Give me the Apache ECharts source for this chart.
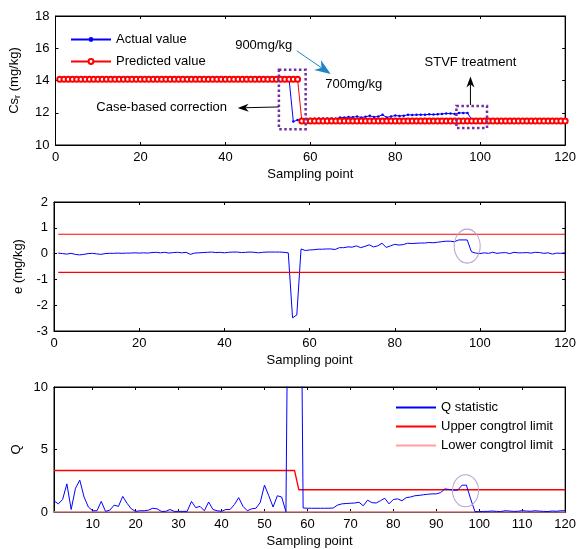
<!DOCTYPE html>
<html>
<head>
<meta charset="utf-8">
<script src="https://cdn.jsdelivr.net/npm/echarts@6/dist/echarts.min.js"></script>
<style>
html, body { margin: 0; padding: 0; background: #fff; }
#chart { width: 579px; height: 549px; }
</style>
</head>
<body>
<div id="chart"></div>
<script>
// 数据
//-----

// 采样点 1..120
var samples = [];
for (var i = 1; i <= 120; i++) samples.push(i);

var csTicks = [10, 12, 14, 16, 18];
var eTicks = [-3, -2, -1, 0, 1, 2];
var qTicks = [0, 5, 10];
var xTicks = [0, 20, 40, 60, 80, 100, 120];
var qXTicks = [10, 20, 30, 40, 50, 60, 70, 80, 90, 100, 110, 120];

// 实际值 Cs_r
var actualCs = [
  14.08, 14.06, 14.04, 14.07, 14.03, 14.01, 14.03, 14.06, 14.07, 14.05,
  14.03, 14.06, 14.07, 14.07, 14.08, 14.07, 14.08, 14.08, 14.09, 14.08,
  14.09, 14.08, 14.10, 14.11, 14.09, 14.11, 14.08, 14.10, 14.11, 14.09,
  14.11, 14.03, 14.08, 14.09, 14.10, 14.11, 14.12, 14.10, 14.11, 14.09,
  14.11, 14.12, 14.12, 14.10, 14.11, 14.12, 14.11, 14.09, 14.11, 14.12,
  14.12, 14.12, 14.12, 14.11, 14.09, 11.45, 11.55,
  11.62, 11.60, 11.62, 11.63, 11.64, 11.64, 11.65, 11.65, 11.63, 11.70,
  11.70, 11.73, 11.72, 11.77, 11.70, 11.75, 11.81, 11.73, 11.77, 11.87,
  11.71, 11.77, 11.83, 11.80, 11.82, 11.87, 11.86, 11.87, 11.88, 11.88,
  11.90, 11.89, 11.91, 11.93, 11.95, 11.95, 11.93, 11.99, 11.99, 11.99,
  11.57, 11.50, 11.48, 11.50, 11.49, 11.53, 11.49, 11.51, 11.52, 11.48,
  11.53, 11.51, 11.51, 11.52, 11.50, 11.53, 11.52, 11.49, 11.51, 11.46,
  11.50, 11.49, 11.51
];

// 预测值
var predictedCs = [
  14.07, 14.07, 14.07, 14.07, 14.07, 14.07, 14.07, 14.07, 14.07, 14.07,
  14.07, 14.07, 14.07, 14.07, 14.07, 14.07, 14.07, 14.07, 14.07, 14.07,
  14.07, 14.07, 14.07, 14.07, 14.07, 14.07, 14.07, 14.07, 14.07, 14.07,
  14.07, 14.07, 14.07, 14.07, 14.07, 14.07, 14.07, 14.07, 14.07, 14.07,
  14.07, 14.07, 14.07, 14.07, 14.07, 14.07, 14.07, 14.07, 14.07, 14.07,
  14.07, 14.07, 14.07, 14.07, 14.07, 14.07, 14.07,
  11.49, 11.49, 11.49,
  11.49, 11.49, 11.49, 11.49, 11.49, 11.49, 11.49, 11.49, 11.49, 11.49,
  11.49, 11.49, 11.49, 11.49, 11.49, 11.49, 11.49, 11.49, 11.49, 11.49,
  11.49, 11.49, 11.49, 11.49, 11.49, 11.49, 11.49, 11.49, 11.49, 11.49,
  11.49, 11.49, 11.49, 11.49, 11.49, 11.49, 11.49, 11.49, 11.49, 11.49,
  11.49, 11.49, 11.49, 11.49, 11.49, 11.49, 11.49, 11.49, 11.49, 11.49,
  11.49, 11.49, 11.49, 11.49, 11.49, 11.49, 11.49, 11.49, 11.49, 11.49
];

// 误差 e
var errorE = [
  0.02, 0.00, -0.02, 0.01, -0.03, -0.05, -0.03, 0.00, 0.01, -0.01,
  -0.03, 0.00, 0.01, 0.01, 0.02, 0.01, 0.02, 0.02, 0.03, 0.02,
  0.03, 0.02, 0.04, 0.05, 0.03, 0.05, 0.02, 0.04, 0.05, 0.03,
  0.05, -0.03, 0.02, 0.03, 0.04, 0.05, 0.06, 0.04, 0.05, 0.03,
  0.05, 0.06, 0.06, 0.04, 0.05, 0.06, 0.05, 0.03, 0.05, 0.06,
  0.06, 0.06, 0.06, 0.05, 0.03, -2.49, -2.38, 0.18, 0.12, 0.14,
  0.15, 0.17, 0.17, 0.18, 0.18, 0.16, 0.23, 0.23, 0.26, 0.25,
  0.30, 0.23, 0.28, 0.34, 0.26, 0.30, 0.40, 0.24, 0.30, 0.36,
  0.33, 0.35, 0.40, 0.39, 0.40, 0.41, 0.41, 0.43, 0.42, 0.44,
  0.46, 0.48, 0.48, 0.46, 0.53, 0.53, 0.53, 0.07, 0.02, 0.00,
  0.03, 0.01, 0.05, 0.01, 0.03, 0.04, 0.00, 0.05, 0.03, 0.03,
  0.04, 0.02, 0.05, 0.04, 0.01, 0.03, -0.02, 0.02, 0.01, 0.03
];
var eUpper = [[1, 0.75], [120, 0.75]];
var eLower = [[1, -0.73], [120, -0.73]];

// Q 统计量
var qStat = [
  0.90, 0.65, 1.00, 2.25, 0.20, 1.90, 2.55, 1.20, 0.40, 0.10,
  0.10, 0.85, 0.05, 0.15, 0.55, 0.45, 1.25, 0.70, 0.25, 0.05,
  0.10, 0.10, 0.15, 0.30, 0.25, 0.05, 0.05, 0.20, 0.05, 0.05,
  0.05, 0.05, 0.85, 0.35, 0.45, 0.10, 0.80, 0.20, 0.10, 0.05,
  0.20, 0.20, 0.60, 1.15, 0.45, 0.10, 0.25, 0.30, 0.75, 2.15,
  1.30, 0.40, 1.30, 1.20, 0.02, 40.0, 40.0, 40.0, 0.32, 0.30,
  0.30, 0.30, 0.30, 0.30, 0.30, 0.32, 0.55, 0.65, 0.68, 0.70,
  0.72, 0.78, 0.50, 0.95, 0.75, 0.72, 0.90, 1.10, 0.65, 1.00,
  1.05, 0.90, 1.15, 1.20, 1.30, 1.33, 1.38, 1.42, 1.45, 1.45,
  1.55, 1.85, 1.80, 1.75, 1.75, 2.15, 2.15, 1.05, 0.03, 0.03,
  0.05, 0.05, 0.08, 0.05, 0.04, 0.10, 0.08, 0.05, 0.06, 0.10,
  0.08, 0.06, 0.10, 0.07, 0.05, 0.04, 0.08, 0.06, 0.10, 0.10
];
var qUpper = [[1, 3.32], [57, 3.32], [58, 1.78], [120, 1.78]];
var qLower = [[1, 0], [120, 0]];

// 样式
//-----
var FONT = 'Liberation Sans';
var black = '#000';

var pairs = function(ys) {
  return ys.map(function(v, i) { return [samples[i], v]; });
};

function xAxisOf(grid, min, max, ticks, withName) {
  var ax = {
    gridIndex: grid, type: 'value', min: min, max: max,
    axisLine: { show: true, onZero: false, lineStyle: { color: black, width: 1 } },
    axisTick: { show: true, inside: true, length: 3, lineStyle: { color: black }, customValues: ticks },
    axisLabel: { fontSize: 13, color: black, fontFamily: FONT, margin: 6, customValues: ticks },
    splitLine: { show: false }
  };
  if (withName) {
    ax.position = 'bottom';
    ax.name = 'Sampling point';
    ax.nameLocation = 'middle';
    ax.nameGap = 23;
    ax.nameTextStyle = { fontSize: 13, color: black, fontFamily: FONT };
  } else {
    ax.position = 'top';
    ax.axisLabel = { show: false, customValues: ticks };
  }
  return ax;
}

function yAxisOf(grid, min, max, ticks, name, gap, withName) {
  var ax = {
    gridIndex: grid, type: 'value', min: min, max: max,
    axisLine: { show: true, onZero: false, lineStyle: { color: black, width: 1 } },
    axisTick: { show: true, inside: true, length: 3, lineStyle: { color: black }, customValues: ticks },
    axisLabel: { fontSize: 13, color: black, fontFamily: FONT, margin: 6, customValues: ticks },
    splitLine: { show: false }
  };
  if (withName) {
    ax.position = 'left';
    ax.name = name;
    ax.nameLocation = 'middle';
    ax.nameGap = gap;
    ax.nameTextStyle = {
      fontSize: 13, color: black, fontFamily: FONT,
      rich: { s: { fontSize: 9, fontFamily: FONT, color: black, padding: [7, 0, 0, 0] } }
    };
  } else {
    ax.position = 'right';
    ax.axisLabel = { show: false, customValues: ticks };
  }
  return ax;
}

var legendText = { fontSize: 13, color: black, fontFamily: FONT };
var boxGrid = { show: true, borderColor: black, borderWidth: 1, backgroundColor: 'transparent' };

var myChart = echarts.init(document.getElementById('chart'));

var option = {
  animation: false,
  backgroundColor: '#fff',
  textStyle: { fontFamily: FONT },
  grid: [
    Object.assign({ left: 54, right: 11, top: 16, height: 129 }, boxGrid),
    Object.assign({ left: 54, right: 11, top: 202, height: 129 }, boxGrid),
    Object.assign({ left: 54, right: 11, top: 387, height: 128 }, boxGrid)
  ],
  xAxis: [
    xAxisOf(0, 0, 120, xTicks, true),
    xAxisOf(1, 0, 120, xTicks, true),
    xAxisOf(2, 1, 120, qXTicks, true),
    xAxisOf(0, 0, 120, xTicks, false),
    xAxisOf(1, 0, 120, xTicks, false),
    xAxisOf(2, 1, 120, qXTicks, false)
  ],
  yAxis: [
    yAxisOf(0, 10, 18, csTicks, 'Cs{s|r} (mg/kg)', 33, true),
    yAxisOf(1, -3, 2, eTicks, 'e (mg/kg)', 29, true),
    yAxisOf(2, 0, 10, qTicks, 'Q', 29, true),
    yAxisOf(0, 10, 18, csTicks, '', 0, false),
    yAxisOf(1, -3, 2, eTicks, '', 0, false),
    yAxisOf(2, 0, 10, qTicks, '', 0, false)
  ],
  legend: [
    {
      data: ['Actual value', 'Predicted value'],
      orient: 'vertical', left: 65, top: 28,
      itemWidth: 40, itemHeight: 6, itemGap: 9,
      textStyle: legendText
    },
    {
      data: ['Q statistic', 'Upper congtrol limit', 'Lower congtrol limit'],
      orient: 'vertical', left: 390, top: 396,
      itemWidth: 40, itemHeight: 6, itemGap: 6,
      itemStyle: { opacity: 0 },
      textStyle: legendText
    }
  ],
  series: [
    {
      name: 'Actual value', type: 'line', xAxisIndex: 0, yAxisIndex: 0,
      data: pairs(actualCs), color: '#0000ff', z: 2,
      symbol: 'circle', symbolSize: 2.5, showAllSymbol: true,
      lineStyle: { width: 1 }
    },
    {
      name: 'Predicted value', type: 'line', xAxisIndex: 0, yAxisIndex: 0,
      data: pairs(predictedCs), color: '#ff0000', z: 3,
      symbol: 'emptyCircle', symbolSize: 5, showAllSymbol: true,
      itemStyle: { borderWidth: 1 },
      lineStyle: { width: 1 }
    },
    {
      name: 'e', type: 'line', xAxisIndex: 1, yAxisIndex: 1,
      data: pairs(errorE), color: '#0000ff', symbol: 'none',
      lineStyle: { width: 1 }
    },
    {
      name: 'e upper', type: 'line', xAxisIndex: 1, yAxisIndex: 1,
      data: eUpper, color: '#ff0000', symbol: 'none', lineStyle: { width: 1.2 }
    },
    {
      name: 'e lower', type: 'line', xAxisIndex: 1, yAxisIndex: 1,
      data: eLower, color: '#ff0000', symbol: 'none', lineStyle: { width: 1.2 }
    },
    {
      name: 'Q statistic', type: 'line', xAxisIndex: 2, yAxisIndex: 2,
      data: pairs(qStat), color: '#0000ff', symbol: 'none', z: 3,
      lineStyle: { width: 1 }
    },
    {
      name: 'Upper congtrol limit', type: 'line', xAxisIndex: 2, yAxisIndex: 2,
      data: qUpper, color: '#ff0000', symbol: 'none', z: 2,
      lineStyle: { width: 1.3 }
    },
    {
      name: 'Lower congtrol limit', type: 'line', xAxisIndex: 2, yAxisIndex: 2,
      data: qLower, color: '#ff9f9f', symbol: 'none', z: 2,
      lineStyle: { width: 1.5 }
    }
  ]
};
myChart.setOption(option);

// 标注
//-----
var px = function(seriesIndex, pt) {
  return myChart.convertToPixel({ seriesIndex: seriesIndex }, pt);
};

function arrowEls(p0, p1, color, headLen, headW, lw) {
  var dx = p1[0] - p0[0], dy = p1[1] - p0[1];
  var L = Math.sqrt(dx * dx + dy * dy);
  var ux = dx / L, uy = dy / L, nx = -uy, ny = ux;
  var bx = p1[0] - ux * headLen, by = p1[1] - uy * headLen;
  var mx = p1[0] - ux * headLen * 0.7, my = p1[1] - uy * headLen * 0.7;
  return [
    { type: 'line', shape: { x1: p0[0], y1: p0[1], x2: mx, y2: my },
      style: { stroke: color, lineWidth: lw }, z: 100 },
    { type: 'polygon', shape: { points: [
        [p1[0], p1[1]],
        [bx + nx * headW / 2, by + ny * headW / 2],
        [mx, my],
        [bx - nx * headW / 2, by - ny * headW / 2]
      ] }, style: { fill: color }, z: 100 }
  ];
}

function rectEl(a, b) {
  return {
    type: 'rect', z: 100,
    shape: { x: Math.min(a[0], b[0]), y: Math.min(a[1], b[1]),
             width: Math.abs(b[0] - a[0]), height: Math.abs(b[1] - a[1]) },
    style: { fill: 'none', stroke: '#7030a0', lineWidth: 2.5, lineDash: [2.5, 2.5] }
  };
}

function textEl(p, text) {
  return {
    type: 'text', x: p[0], y: p[1], z: 100,
    style: { text: text, fontSize: 13, fontFamily: FONT, fill: black,
             align: 'left', verticalAlign: 'middle' }
  };
}

function ellipseEl(c, rx, ry) {
  return {
    type: 'circle', x: c[0], y: c[1], scaleY: ry / rx, z: 100,
    shape: { cx: 0, cy: 0, r: rx },
    style: { fill: 'none', stroke: '#b9a3d3', lineWidth: 1, strokeNoScale: true }
  };
}

var graphics = [
  rectEl(px(0, [52.6, 14.66]), px(0, [58.9, 10.98])),
  rectEl(px(0, [94.4, 12.42]), px(0, [101.6, 11.06])),
  textEl(px(0, [42.3, 16.2]), '900mg/kg'),
  textEl(px(0, [63.5, 13.75]), '700mg/kg'),
  textEl(px(0, [9.6, 12.36]), 'Case-based correction'),
  textEl(px(0, [86.9, 15.1]), 'STVF treatment'),
  ellipseEl(px(2, [97, 0.29]), 13, 17),
  ellipseEl(px(5, [96.8, 1.7]), 13, 16)
]
  .concat(arrowEls(px(0, [56.8, 15.84]), px(0, [64.8, 14.4]), '#2185c5', 16, 12, 1))
  .concat(arrowEls(px(0, [52.6, 12.36]), px(0, [42.9, 12.3]), black, 11, 8, 1))
  .concat(arrowEls(px(0, [97.7, 12.48]), px(0, [97.7, 14.25]), black, 11, 8, 1));

myChart.setOption({ graphic: graphics });

window.addEventListener('resize', function() {
  myChart.resize();
});
</script>
</body>
</html>
